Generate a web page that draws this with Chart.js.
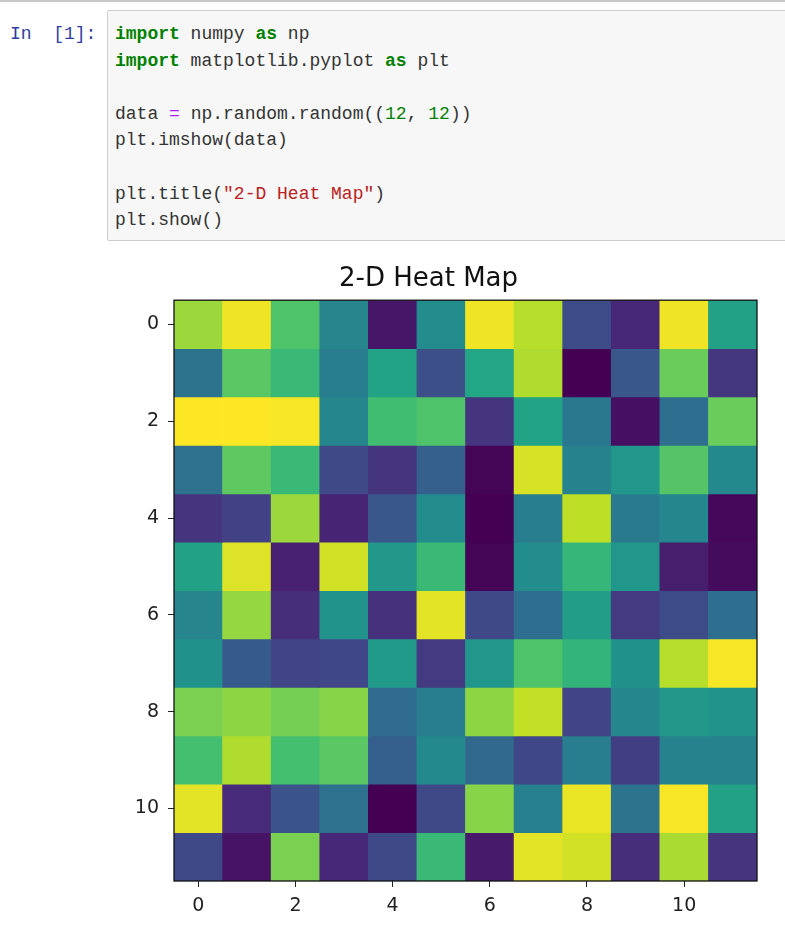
<!DOCTYPE html>
<html>
<head>
<meta charset="utf-8">
<script src="https://cdn.jsdelivr.net/npm/chart.js@4/dist/chart.umd.min.js"></script>
<style>
  html, body { margin: 0; padding: 0; background: #fff; }
  body { width: 785px; height: 939px; position: relative; overflow: hidden; border-top: 2px solid #c8c8c8; box-sizing: border-box; }
  .prompt { position: absolute; left: 10px; top: 19px; font: 18px/26.6px "Liberation Mono", monospace; color: #303f9f; white-space: pre; }
  .code { position: absolute; left: 107px; top: 8px; width: 700px; height: 231px; box-sizing: border-box;
          background: #f7f7f7; border: 1px solid #cfcfcf; border-radius: 2px; padding: 10px 0 0 7px;
          font: 18px/26.6px "Liberation Mono", monospace; color: #333; white-space: pre; }
  .kw { color: #008000; font-weight: bold; }
  .op { color: #aa22ff; }
  .num { color: #008000; }
  .str { color: #ba2121; }
  #wrap { position: absolute; left: 100px; top: 248px; width: 685px; height: 689px; }
</style>
</head>
<body>
<div class="prompt">In  [1]:</div>
<div class="code"><span class="kw">import</span> numpy <span class="kw">as</span> np
<span class="kw">import</span> matplotlib.pyplot <span class="kw">as</span> plt

data <span class="op">=</span> np.random.random((<span class="num">12</span>, <span class="num">12</span>))
plt.imshow(data)

plt.title(<span class="str">"2-D Heat Map"</span>)
plt.show()</div>
<div id="wrap"><canvas id="heat"></canvas></div>
<script>
// column labels and tick positions
const columns = ['0', '1', '2', '3', '4', '5', '6', '7', '8', '9', '10', '11'];
const xTicks = [0, 2, 4, 6, 8, 10];
const yTicks = [0, 2, 4, 6, 8, 10];

// cell values, one array per row
const row0 = [0.85, 0.98, 0.72, 0.45, 0.06, 0.48, 0.98, 0.89, 0.23, 0.11, 0.98, 0.57];
const row1 = [0.38, 0.74, 0.67, 0.42, 0.58, 0.24, 0.59, 0.88, 0.00, 0.27, 0.77, 0.16];
const row2 = [1.00, 1.00, 0.99, 0.46, 0.69, 0.72, 0.15, 0.58, 0.40, 0.04, 0.36, 0.77];
const row3 = [0.37, 0.75, 0.67, 0.22, 0.15, 0.30, 0.01, 0.94, 0.44, 0.52, 0.73, 0.47];
const row4 = [0.15, 0.19, 0.85, 0.10, 0.27, 0.48, 0.00, 0.42, 0.90, 0.41, 0.46, 0.02];
const row5 = [0.57, 0.95, 0.09, 0.93, 0.53, 0.67, 0.01, 0.48, 0.66, 0.52, 0.08, 0.03];
const row6 = [0.45, 0.84, 0.13, 0.51, 0.14, 0.96, 0.22, 0.36, 0.55, 0.17, 0.23, 0.36];
const row7 = [0.50, 0.28, 0.20, 0.21, 0.54, 0.17, 0.52, 0.72, 0.65, 0.50, 0.89, 0.99];
const row8 = [0.80, 0.83, 0.79, 0.82, 0.35, 0.42, 0.83, 0.91, 0.20, 0.46, 0.53, 0.51];
const row9 = [0.70, 0.88, 0.70, 0.74, 0.30, 0.47, 0.34, 0.21, 0.42, 0.18, 0.44, 0.44];
const row10 = [0.96, 0.12, 0.26, 0.37, 0.00, 0.22, 0.82, 0.43, 0.97, 0.38, 0.99, 0.57];
const row11 = [0.22, 0.05, 0.80, 0.11, 0.22, 0.67, 0.07, 0.96, 0.93, 0.13, 0.87, 0.15];
const rows = [row0, row1, row2, row3, row4, row5, row6, row7, row8, row9, row10, row11];

// viridis colour stops at 0, 0.1, ..., 1
const viridis = ['#440154', '#482475', '#414487', '#355f8d', '#2a788e', '#21918c',
                 '#22a884', '#44bf70', '#7ad151', '#bddf26', '#fde725'];

function hexToRgb(h) {
    return [parseInt(h.slice(1, 3), 16), parseInt(h.slice(3, 5), 16), parseInt(h.slice(5, 7), 16)];
}

function colorFor(v) {
    const t = Math.min(Math.max(v, 0), 1) * (viridis.length - 1);
    const i = Math.min(Math.floor(t), viridis.length - 2);
    const f = t - i;
    const a = hexToRgb(viridis[i]), b = hexToRgb(viridis[i + 1]);
    const c = a.map((x, k) => Math.round(x + (b[k] - x) * f));
    return `rgb(${c[0]}, ${c[1]}, ${c[2]})`;
}

// one floating-bar dataset per row
const datasets = rows.map((row, r) => ({
    data: row.map(() => [r - 0.5, r + 0.5]),
    backgroundColor: row.map(colorFor),
    borderWidth: 0,
    grouped: false,
    barPercentage: 1,
    categoryPercentage: 1
}));

// frame around the plot area
const framePlugin = {
    id: 'frame',
    afterDatasetsDraw(chart) {
        const { ctx, chartArea: a } = chart;
        ctx.save();
        ctx.strokeStyle = '#111';
        ctx.lineWidth = 1.3;
        ctx.strokeRect(a.left, a.top, a.right - a.left, a.bottom - a.top);
        ctx.restore();
    }
};

const tickFont = { family: 'DejaVu Sans', size: 19 };

new Chart(document.getElementById('heat').getContext('2d'), {
    type: 'bar',
    data: { labels: columns, datasets: datasets },
    options: {
        responsive: true,
        maintainAspectRatio: false,
        animation: false,
        layout: { padding: { left: 0, right: 28, top: 0, bottom: 0 } },
        plugins: {
            legend: { display: false },
            tooltip: { enabled: false },
            title: {
                display: true,
                text: '2-D Heat Map',
                color: '#111',
                font: { family: 'DejaVu Sans', size: 26, weight: 'normal', lineHeight: 1.2 },
                padding: { top: 14, bottom: 5 }
            }
        },
        scales: {
            x: {
                type: 'category',
                afterBuildTicks: scale => { scale.ticks = xTicks.map(v => ({ value: v })); },
                afterFit: scale => { scale.height = 58; },
                ticks: { color: '#222', font: tickFont, padding: 8, maxRotation: 0, autoSkip: false },
                grid: { drawOnChartArea: false, drawTicks: true, tickLength: 6, color: '#222', offset: false },
                border: { display: false }
            },
            y: {
                type: 'linear',
                reverse: true,
                min: -0.5,
                max: 11.5,
                afterBuildTicks: scale => { scale.ticks = yTicks.map(v => ({ value: v })); },
                afterFit: scale => { scale.width = 74; },
                ticks: { color: '#222', font: tickFont, padding: 9 },
                grid: { drawOnChartArea: false, drawTicks: true, tickLength: 6, color: '#222' },
                border: { display: false }
            }
        }
    },
    plugins: [framePlugin]
});
</script>
</body>
</html>
